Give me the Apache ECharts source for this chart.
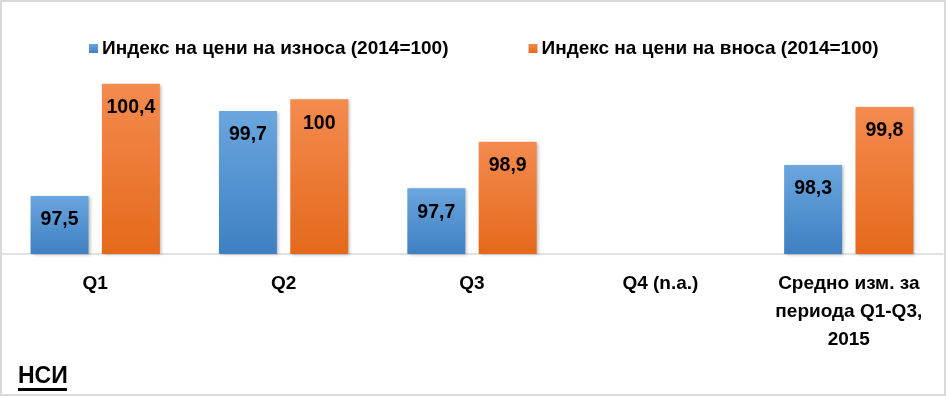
<!DOCTYPE html>
<html>
<head>
<meta charset="utf-8">
<script src="https://cdn.jsdelivr.net/npm/echarts@6/dist/echarts.min.js"></script>
<style>
html,body{margin:0;padding:0;background:#fff;}
#chart{width:946px;height:396px;}
</style>
</head>
<body>
<div id="chart"></div>
<script>
const categories = ['Q1', 'Q2', 'Q3', 'Q4 (n.a.)', 'Средно изм. за\nпериода Q1-Q3,\n2015'];
const exportName = 'Индекс на цени на износа (2014=100)';
const importName = 'Индекс на цени на вноса (2014=100)';
const exportValues = [97.5, 99.7, 97.7, null, 98.3];
const importValues = [100.4, 100, 98.9, null, 99.8];
const sourceText = 'НСИ';

const narrow = '"Liberation Sans Narrow", "Arial Narrow", sans-serif';
const chart = echarts.init(document.getElementById('chart'));

function grad(top, bottom) {
  return new echarts.graphic.LinearGradient(0, 0, 0, 1, [
    { offset: 0, color: top }, { offset: 1, color: bottom }
  ]);
}

const labelCfg = {
  show: true,
  position: 'insideTop',
  distance: 14,
  color: '#000',
  fontFamily: '"Liberation Sans", Arial, sans-serif',
  fontWeight: 'bold',
  fontSize: 19.5,
  formatter: p => String(p.value).replace('.', ',')
};

chart.setOption({
  animation: false,
  backgroundColor: '#fff',
  legend: {
    left: 84,
    top: 34,
    itemWidth: 9,
    itemHeight: 9,
    itemGap: 80,
    icon: 'rect',
    textStyle: { fontFamily: narrow, fontWeight: 'bold', fontSize: 19, color: '#000', padding: [0, 0, 0, -1] },
    data: [exportName, importName]
  },
  grid: { left: 1, right: 3, top: 22, bottom: 142, containLabel: false },
  xAxis: {
    type: 'category',
    data: categories,
    axisLine: { show: true, lineStyle: { color: '#d9d9d9', width: 1.5 } },
    axisTick: { show: false },
    axisLabel: {
      interval: 0,
      margin: 16,
      color: '#000',
      fontFamily: narrow,
      fontWeight: 'bold',
      fontSize: 19,
      lineHeight: 28,
      align: 'center'
    }
  },
  yAxis: {
    type: 'value',
    min: 96,
    max: 102,
    show: false,
    splitLine: { show: false }
  },
  series: [
    {
      name: exportName,
      type: 'bar',
      data: exportValues,
      barWidth: 58,
      barGap: '23%',
      itemStyle: {
        color: grad('#6aa6df', '#3f80c2'),
        shadowColor: 'rgba(0,0,0,0.25)',
        shadowBlur: 3,
        shadowOffsetX: 2,
        shadowOffsetY: 1
      },
      label: labelCfg
    },
    {
      name: importName,
      type: 'bar',
      data: importValues,
      barWidth: 58,
      barGap: '23%',
      itemStyle: {
        color: grad('#f48b4f', '#e4691b'),
        shadowColor: 'rgba(0,0,0,0.25)',
        shadowBlur: 3,
        shadowOffsetX: 2,
        shadowOffsetY: 1
      },
      label: labelCfg
    }
  ],
  color: ['#5b9bd5', '#ed7d31'],
  graphic: [
    {
      type: 'rect',
      shape: { x: 1, y: 1, width: 944, height: 394 },
      style: { fill: 'none', stroke: '#d9d9d9', lineWidth: 2 },
      silent: true,
      z: 100
    },
    {
      type: 'text',
      left: 18,
      top: 365,
      style: { text: sourceText, fill: '#000', font: 'bold 23px ' + narrow }
    },
    {
      type: 'rect',
      shape: { x: 18, y: 388, width: 49, height: 3 },
      style: { fill: '#000' }
    }
  ]
});
</script>
</body>
</html>
